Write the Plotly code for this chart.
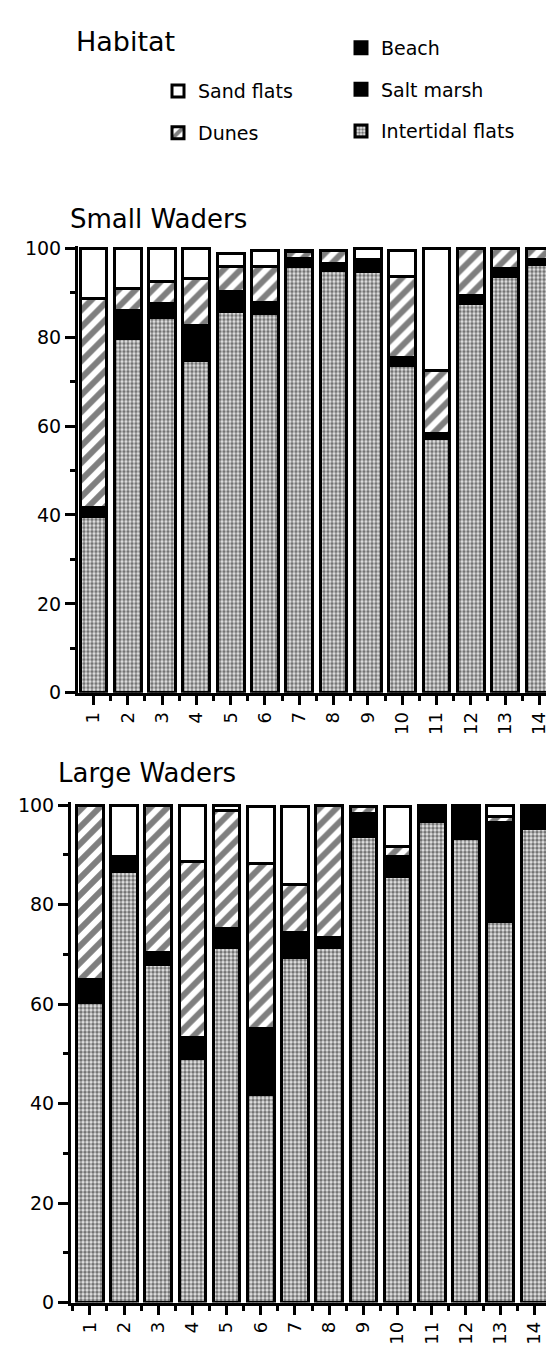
import plotly.graph_objects as go

sites = list(range(1, 14 + 1))
site_labels = [str(s) for s in sites]
y_ticks = [0, 20, 40, 60, 80, 100]

# Small waders (% of birds per habitat, bottom to top of stack)
small_intertidal = [39.7, 79.6, 84.5, 74.7, 85.7, 85.3, 95.8, 95.1, 94.7, 73.6, 57.3, 87.5, 93.6, 96.4]
small_saltmarsh = [2.0, 6.4, 3.0, 7.9, 4.5, 2.6, 2.0, 1.5, 2.7, 1.9, 1.1, 1.9, 1.9, 1.0]
small_beach = [0, 0, 0, 0, 0, 0, 0, 0, 0, 0, 0, 0, 0, 0]
small_dunes = [47.0, 4.9, 5.0, 10.6, 5.6, 7.9, 1.5, 3.0, 0, 18.1, 14.1, 10.6, 4.5, 2.6]
small_sand = [11.3, 9.1, 7.5, 6.8, 3.1, 3.8, 0.3, 0, 2.6, 6.0, 27.5, 0, 0, 0]

# Large waders
large_intertidal = [60.3, 86.7, 68.0, 49.0, 71.3, 41.9, 69.3, 71.3, 93.7, 85.7, 96.7, 93.3, 76.7, 95.3]
large_saltmarsh = [4.7, 3.0, 2.3, 4.3, 4.0, 13.1, 5.0, 2.0, 4.6, 4.0, 2.6, 6.7, 19.8, 4.7]
large_beach = [0, 0, 0, 0, 0, 0, 0, 0, 0, 0, 0, 0, 0, 0]
large_dunes = [35.0, 0, 29.7, 35.4, 23.7, 33.3, 9.7, 26.7, 1.5, 2.0, 0, 0, 1.2, 0]
large_sand = [0, 10.3, 0, 11.3, 1.0, 11.4, 15.7, 0, 0, 8.0, 0.7, 0, 2.2, 0]

FONT = "DejaVu Sans, Liberation Sans, Arial, sans-serif"
W, H = 554, 1346

styles = {
    "Intertidal flats": dict(color="white", pattern=dict(shape=".", fgcolor="black", bgcolor="#e8e8e8", size=4, solidity=0.6, fillmode="overlay")),
    "Salt marsh": dict(color="black"),
    "Beach": dict(color="black"),
    "Dunes": dict(color="white", pattern=dict(shape="/", fgcolor="black", bgcolor="white", size=12, solidity=0.5, fillmode="overlay")),
    "Sand flats": dict(color="white"),
}
legend_of = {"Sand flats": "legend", "Dunes": "legend", "Beach": "legend2", "Salt marsh": "legend2", "Intertidal flats": "legend2"}
rank_of = {"Sand flats": 1, "Dunes": 2, "Beach": 1, "Salt marsh": 2, "Intertidal flats": 3}

fig = go.Figure()

def add_stack(series, xa, ya, show):
    for name, vals in series:
        st = styles[name]
        marker = dict(color=st["color"], line=dict(color="black", width=3))
        if "pattern" in st:
            marker["pattern"] = st["pattern"]
        fig.add_trace(go.Bar(
            x=sites, y=vals, name=name, marker=marker, width=0.78,
            xaxis=xa, yaxis=ya, showlegend=show, legendgroup=name,
            legend=legend_of[name], legendrank=rank_of[name],
            hoverinfo="skip"))

add_stack([("Intertidal flats", small_intertidal), ("Salt marsh", small_saltmarsh),
           ("Beach", small_beach), ("Dunes", small_dunes), ("Sand flats", small_sand)], "x", "y", True)
add_stack([("Intertidal flats", large_intertidal), ("Salt marsh", large_saltmarsh),
           ("Beach", large_beach), ("Dunes", large_dunes), ("Sand flats", large_sand)], "x2", "y2", False)

def px_x(p):
    return p / W

def px_y(p):
    return 1 - p / H

xcommon = dict(
    tickmode="array", tickvals=sites, ticktext=site_labels, tickangle=-90,
    ticks="outside", ticklen=9, tickwidth=3, tickcolor="black",
    showline=True, linewidth=3, linecolor="black", showgrid=False, zeroline=False,
    tickfont=dict(family=FONT, size=18, color="black"),
    minor=dict(tick0=0.5, dtick=1, ticks="outside", ticklen=5, tickwidth=3, tickcolor="black"),
    fixedrange=True,
)
ycommon = dict(
    tickmode="array", tickvals=y_ticks, ticks="outside", ticklen=10, tickwidth=3, tickcolor="black",
    showline=True, linewidth=3, linecolor="black", showgrid=False, zeroline=False,
    tickfont=dict(family=FONT, size=19, color="black"),
    minor=dict(tick0=0, dtick=10, ticks="outside", ticklen=5, tickwidth=3, tickcolor="black"),
    range=[0, 100.6], fixedrange=True,
)

legend_common = dict(xanchor="left", yanchor="top", traceorder="grouped", tracegroupgap=14,
                     font=dict(family=FONT, size=19, color="black"),
                     bgcolor="rgba(0,0,0,0)", itemclick=False, itemdoubleclick=False)

fig.update_layout(
    width=W, height=H, margin=dict(l=0, r=0, t=0, b=0),
    paper_bgcolor="white", plot_bgcolor="white",
    barmode="stack", bargap=0.2,
    font=dict(family=FONT, color="black"),
    xaxis=dict(domain=[px_x(70), px_x(552)], anchor="y", range=[0.55, 14.6], **xcommon),
    yaxis=dict(domain=[px_y(686), px_y(232)], anchor="x", **ycommon),
    xaxis2=dict(domain=[px_x(63), px_x(552)], anchor="y2", range=[0.45, 14.75], **xcommon),
    yaxis2=dict(domain=[px_y(1305), px_y(797)], anchor="x2", **ycommon),
    legend=dict(x=px_x(150), y=px_y(56), **legend_common),
    legend2=dict(x=px_x(333), y=px_y(12), **legend_common),
    annotations=[
        dict(text="Habitat", x=px_x(66), y=px_y(25), xref="paper", yref="paper",
             xanchor="left", yanchor="middle", showarrow=False, font=dict(family=FONT, size=27, color="black")),
        dict(text="Small Waders", x=px_x(60), y=px_y(205), xref="paper", yref="paper",
             xanchor="left", yanchor="middle", showarrow=False, font=dict(family=FONT, size=26, color="black")),
        dict(text="Large Waders", x=px_x(48), y=px_y(767), xref="paper", yref="paper",
             xanchor="left", yanchor="middle", showarrow=False, font=dict(family=FONT, size=26, color="black")),
    ],
)

fig.write_html("out.html")
